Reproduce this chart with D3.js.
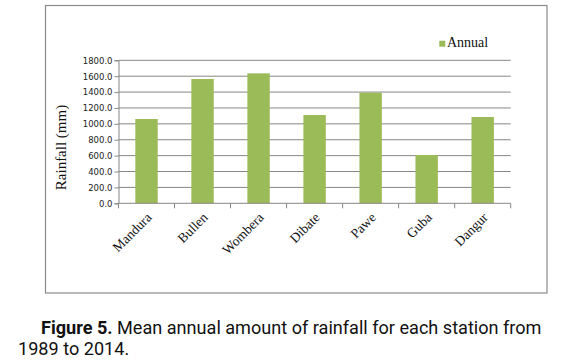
<!DOCTYPE html>
<html><head><meta charset="utf-8">
<script src="https://cdn.jsdelivr.net/npm/d3@7"></script>
<style>
html,body{margin:0;padding:0;background:#fff;}
svg{display:block;}
</style></head>
<body>
<svg id="chart" width="576" height="360"></svg>
<script>
const stations = ["Mandura","Bullen","Wombera","Dibate","Pawe","Guba","Dangur"];
const annual = [1061, 1565, 1636, 1111, 1392, 608, 1086];
const yTicks = [0,200,400,600,800,1000,1200,1400,1600,1800];
const seriesName = "Annual";
const captionBold = "Figure 5.";
const captionLine1 = " Mean annual amount of rainfall for each station from";
const captionLine2 = "1989 to 2014.";

const svg = d3.select("#chart");
const plot = {left:118.5, right:510.7, top:60.3, bottom:203.3};

svg.append("rect").attr("x",45.5).attr("y",5.5).attr("width",501.5).attr("height",287.5)
  .attr("fill","none").attr("stroke","#8a8a8a").attr("stroke-width",1.2);

const x = d3.scaleBand().domain(stations).range([plot.left, plot.right]).paddingInner(0.6).paddingOuter(0.3);
const xb = d3.scaleBand().domain(stations).range([plot.left, plot.right]);
const y = d3.scaleLinear().domain([0,1800]).range([plot.bottom, plot.top]);

// gridlines
svg.append("g").selectAll("line").data(yTicks.filter(d=>d>0)).join("line")
  .attr("x1",plot.left).attr("x2",plot.right)
  .attr("y1",d=>y(d)).attr("y2",d=>y(d))
  .attr("stroke","#868686").attr("stroke-width",1);

// bars
svg.append("g").selectAll("rect").data(stations).join("rect")
  .attr("x",d=>x(d)).attr("width",x.bandwidth())
  .attr("y",(d,i)=>y(annual[i])).attr("height",(d,i)=>plot.bottom-y(annual[i]))
  .attr("fill","#9bbb59");

// y axis
const yAxis = d3.axisLeft(y).tickValues(yTicks).tickSize(4).tickFormat(d3.format(".1f"));
const gy = svg.append("g").attr("transform",`translate(${plot.left},0)`).call(yAxis);
gy.select(".domain").attr("stroke","#868686");
gy.selectAll(".tick line").attr("stroke","#868686");
gy.selectAll(".tick text").attr("font-family","DejaVu Sans").attr("font-size","8.5px").attr("fill","#222").attr("x",-6).attr("dy","0.34em");

// x axis
const gx = svg.append("g").attr("transform",`translate(0,${plot.bottom})`);
gx.append("line").attr("x1",plot.left).attr("x2",plot.right).attr("stroke","#868686");
gx.selectAll("line.t").data(stations.concat(["_end"])).join("line").attr("class","t")
  .attr("x1",(d,i)=> i<stations.length ? xb(d) : plot.right)
  .attr("x2",(d,i)=> i<stations.length ? xb(d) : plot.right)
  .attr("y1",0).attr("y2",5).attr("stroke","#868686");
gx.selectAll("text").data(stations).join("text")
  .attr("transform",d=>`translate(${xb(d)+xb.bandwidth()/2+6},${15}) rotate(-45)`)
  .attr("text-anchor","end")
  .attr("font-family","Liberation Serif").attr("font-size","13.5px").attr("fill","#111")
  .text(d=>d);

// y title
svg.append("text").attr("transform","translate(66,147.5) rotate(-90)")
  .attr("text-anchor","middle").attr("font-family","Liberation Serif").attr("font-size","15px").attr("fill","#111")
  .text("Rainfall  (mm)");

// legend
svg.append("rect").attr("x",439.3).attr("y",40.7).attr("width",6).attr("height",6).attr("fill","#9bbb59");
svg.append("text").attr("x",447).attr("y",47.3).attr("font-family","Liberation Serif").attr("font-size","14px").attr("fill","#111").text(seriesName);

// caption
const cap = svg.append("text").attr("x",41).attr("y",334).attr("font-family","Roboto").attr("font-size","18.1px").attr("fill","#111");
cap.append("tspan").attr("font-weight","bold").text(captionBold);
cap.append("tspan").text(captionLine1);
svg.append("text").attr("x",18).attr("y",355).attr("font-family","Roboto").attr("font-size","18.1px").attr("fill","#111").text(captionLine2);
</script>
</body></html>
